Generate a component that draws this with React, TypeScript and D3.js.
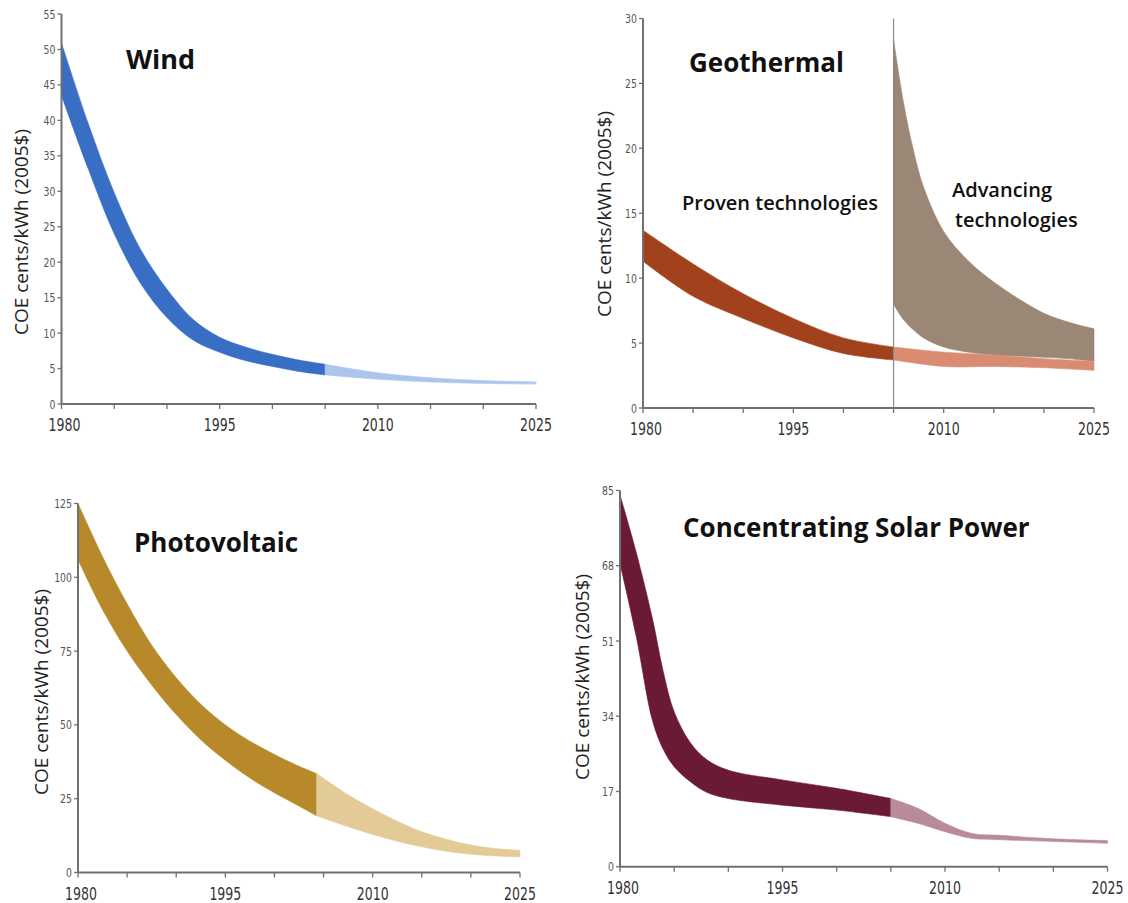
import React from "react";
import * as d3 from "d3";

// ---------- shared axis data ----------
const X_TICK_YEARS = [1980, 1985, 1990, 1995, 2000, 2005, 2010, 2015, 2020, 2025];
const X_LABEL_YEARS = [1980, 1995, 2010, 2025];
const Y_AXIS_TITLE = "COE cents/kWh (2005$)";

// ---------- Wind ----------
const WIND_Y_TICKS = [0, 5, 10, 15, 20, 25, 30, 35, 40, 45, 50, 55];
const WIND_DARK_YEARS = [1980, 1982.5, 1985, 1987.5, 1990, 1992.5, 1995, 1997.5, 2000, 2002.5, 2005];
const WIND_DARK_HIGH = [50.9, 39.7, 29.8, 21.8, 16.2, 11.9, 9.4, 8.0, 7.0, 6.2, 5.6];
const WIND_DARK_LOW = [43.5, 33.3, 24.0, 17.0, 12.2, 9.0, 7.3, 6.1, 5.3, 4.6, 4.1];
const WIND_LIGHT_YEARS = [2005, 2010, 2015, 2020, 2025];
const WIND_LIGHT_HIGH = [5.6, 4.4, 3.7, 3.3, 3.1];
const WIND_LIGHT_LOW = [4.1, 3.5, 3.1, 2.9, 2.8];

// ---------- Geothermal ----------
const GEO_Y_TICKS = [0, 5, 10, 15, 20, 25, 30];
const GEO_PROVEN_YEARS = [1980, 1985, 1990, 1995, 2000, 2005];
const GEO_PROVEN_HIGH = [13.7, 11.1, 8.8, 6.9, 5.4, 4.7];
const GEO_PROVEN_LOW = [11.3, 8.6, 6.9, 5.4, 4.2, 3.7];
const GEO_FUTURE_YEARS = [2005, 2010, 2015, 2020, 2025];
const GEO_FUTURE_HIGH = [4.7, 4.3, 4.1, 3.8, 3.6];
const GEO_FUTURE_LOW = [3.7, 3.2, 3.2, 3.1, 2.9];
const GEO_ADV_YEARS = [2005, 2006, 2007, 2008, 2010, 2012.5, 2015, 2017.5, 2020, 2022.5, 2025];
const GEO_ADV_HIGH = [28.4, 23.5, 19.8, 17.0, 13.6, 11.3, 9.7, 8.4, 7.3, 6.6, 6.1];
const GEO_ADV_LOW = [8.0, 6.8, 6.0, 5.4, 4.7, 4.3, 4.1, 4.0, 3.9, 3.8, 3.6];

// ---------- Photovoltaic ----------
const PV_Y_TICKS = [0, 25, 50, 75, 100, 125];
const PV_DARK_YEARS = [1980, 1982.5, 1985, 1987.5, 1990, 1992.5, 1995, 1997.5, 2000, 2002.5, 2004.3];
const PV_DARK_HIGH = [125, 107, 91, 77, 66, 57, 50, 44.5, 40, 36, 33.5];
const PV_DARK_LOW = [106, 89, 75, 63.5, 53.5, 45, 38, 32, 27, 22.5, 19.2];
const PV_LIGHT_YEARS = [2004.3, 2007.5, 2010, 2012.5, 2015, 2017.5, 2020, 2022.5, 2025];
const PV_LIGHT_HIGH = [33.5, 26.3, 21.6, 17.4, 13.8, 11.3, 9.3, 8.1, 7.5];
const PV_LIGHT_LOW = [19.2, 15.5, 12.9, 10.6, 8.7, 7.2, 6.2, 5.6, 5.3];

// ---------- Concentrating Solar Power ----------
const CSP_Y_TICKS = [0, 17, 34, 51, 68, 85];
const CSP_DARK_YEARS = [1980, 1981.5, 1983, 1984, 1985, 1986.5, 1988, 1990, 1995, 2000, 2005];
const CSP_DARK_HIGH = [84, 71, 56, 44, 35, 28, 24.2, 21.8, 19.6, 17.7, 15.4];
const CSP_DARK_LOW = [68.5, 52, 33, 26.5, 22.6, 19.2, 16.8, 15.4, 13.9, 12.8, 11.3];
const CSP_LIGHT_YEARS = [2005, 2007.5, 2010, 2012.5, 2015, 2020, 2025];
const CSP_LIGHT_HIGH = [15.4, 13.2, 9.8, 7.5, 7.1, 6.3, 5.9];
const CSP_LIGHT_LOW = [11.3, 9.8, 7.9, 6.4, 6.1, 5.7, 5.3];

// ---------- styling ----------
const TICK_FONT = "'Liberation Sans Narrow', 'DejaVu Sans Condensed', 'Open Sans', sans-serif";
const TITLE_FONT = "'Open Sans', 'Liberation Sans', sans-serif";
const AXIS_COLOR = "#707070";

type Band = { years: number[]; high: number[]; low: number[]; color: string };

type PanelProps = {
  left: number;
  right: number;
  top: number;
  bottom: number;
  yMax: number;
  yTicks: number[];
  bands: Band[];
  labelX: number;
  labelY: number;
  divider?: number;
  children?: React.ReactNode;
};

function Panel(p: PanelProps) {
  const x = d3.scaleLinear().domain([1980, 2025]).range([p.left, p.right]);
  const y = d3.scaleLinear().domain([0, p.yMax]).range([p.bottom, p.top]);
  const area = (b: Band) =>
    d3
      .area<number>()
      .x((d) => x(d))
      .y0((_d, i) => y(b.low[i]))
      .y1((_d, i) => y(b.high[i]))
      .curve(d3.curveCatmullRom.alpha(0.5))(b.years) || "";

  return (
    <g>
      {p.bands.map((b, i) => (
        <path key={i} d={area(b)} fill={b.color} stroke={b.color} strokeWidth={0.6} />
      ))}
      {p.divider !== undefined && (
        <line
          x1={x(p.divider)}
          x2={x(p.divider)}
          y1={p.top}
          y2={p.bottom}
          stroke="#8a8a8a"
          strokeWidth={1.2}
        />
      )}
      {/* y axis */}
      <line x1={p.left} x2={p.left} y1={p.top} y2={p.bottom} stroke={AXIS_COLOR} strokeWidth={2} />
      {p.yTicks.map((t) => (
        <g key={"y" + t}>
          <line x1={p.left - 4} x2={p.left} y1={y(t)} y2={y(t)} stroke={AXIS_COLOR} strokeWidth={1.3} />
          <text
            transform={`translate(${p.left - 6},${y(t)}) scale(0.8,1)`}
            dy="0.35em"
            textAnchor="end"
            fontFamily={TICK_FONT}
            fontSize={13}
            fill="#555"
          >
            {t}
          </text>
        </g>
      ))}
      {/* x axis */}
      <line x1={p.left} x2={p.right} y1={p.bottom} y2={p.bottom} stroke={AXIS_COLOR} strokeWidth={2} />
      {X_TICK_YEARS.map((t) => (
        <line key={"x" + t} x1={x(t)} x2={x(t)} y1={p.bottom} y2={p.bottom + 5} stroke={AXIS_COLOR} strokeWidth={1.3} />
      ))}
      {X_LABEL_YEARS.map((t) => (
        <text
          key={"xl" + t}
          transform={`translate(${x(t) + (t === 1980 ? 3 : 0)},${p.bottom + 27}) scale(0.82,1)`}
          textAnchor="middle"
          fontFamily={TICK_FONT}
          fontSize={17}
          fill="#333"
        >
          {t}
        </text>
      ))}
      <text
        transform={`translate(${p.labelX},${p.labelY}) rotate(-90)`}
        textAnchor="middle"
        dy="0.35em"
        fontFamily={TITLE_FONT}
        fontSize={19}
        fill="#222"
      >
        {Y_AXIS_TITLE}
      </text>
      {p.children}
    </g>
  );
}

const titleStyle = { fontFamily: TITLE_FONT, fontWeight: 700, fill: "#111" } as const;
const subStyle = { fontFamily: TITLE_FONT, fontWeight: 600, fill: "#111", fontSize: 20 } as const;

export default function App() {
  return (
    <svg
      width={1128}
      height={903}
      viewBox="0 0 1128 903"
      style={{ position: "absolute", left: 0, top: 0, background: "#fff" }}
    >
      <rect x={0} y={0} width={1128} height={903} fill="#fff" />
      <Panel
        left={61.5}
        right={536}
        top={14}
        bottom={404}
        yMax={55}
        yTicks={WIND_Y_TICKS}
        labelX={21}
        labelY={232}
        bands={[
          { years: WIND_DARK_YEARS, high: WIND_DARK_HIGH, low: WIND_DARK_LOW, color: "#386fc4" },
          { years: WIND_LIGHT_YEARS, high: WIND_LIGHT_HIGH, low: WIND_LIGHT_LOW, color: "#abc5ec" },
        ]}
      >
        <text x={126} y={69} fontSize={27} style={titleStyle}>Wind</text>
      </Panel>

      <Panel
        left={643}
        right={1094}
        top={18.5}
        bottom={408}
        yMax={30}
        yTicks={GEO_Y_TICKS}
        labelX={604}
        labelY={214}
        divider={2005}
        bands={[
          { years: GEO_ADV_YEARS, high: GEO_ADV_HIGH, low: GEO_ADV_LOW, color: "#9b8776" },
          { years: GEO_PROVEN_YEARS, high: GEO_PROVEN_HIGH, low: GEO_PROVEN_LOW, color: "#a2421d" },
          { years: GEO_FUTURE_YEARS, high: GEO_FUTURE_HIGH, low: GEO_FUTURE_LOW, color: "#d98c72" },
        ]}
      >
        <text x={689} y={72} fontSize={26} style={titleStyle}>Geothermal</text>
        <text x={682} y={210} style={subStyle}>Proven technologies</text>
        <text x={952} y={197} style={subStyle}>Advancing</text>
        <text x={955} y={227} style={subStyle}>technologies</text>
      </Panel>

      <Panel
        left={78}
        right={520}
        top={503.5}
        bottom={872.5}
        yMax={125}
        yTicks={PV_Y_TICKS}
        labelX={41}
        labelY={692}
        bands={[
          { years: PV_DARK_YEARS, high: PV_DARK_HIGH, low: PV_DARK_LOW, color: "#b8892a" },
          { years: PV_LIGHT_YEARS, high: PV_LIGHT_HIGH, low: PV_LIGHT_LOW, color: "#e3cb98" },
        ]}
      >
        <text x={134} y={552} fontSize={26} style={titleStyle}>Photovoltaic</text>
      </Panel>

      <Panel
        left={620}
        right={1107.5}
        top={490.5}
        bottom={866.7}
        yMax={85}
        yTicks={CSP_Y_TICKS}
        labelX={582}
        labelY={677}
        bands={[
          { years: CSP_DARK_YEARS, high: CSP_DARK_HIGH, low: CSP_DARK_LOW, color: "#6b1a33" },
          { years: CSP_LIGHT_YEARS, high: CSP_LIGHT_HIGH, low: CSP_LIGHT_LOW, color: "#b98a99" },
        ]}
      >
        <text x={683} y={537} fontSize={26} style={titleStyle}>Concentrating Solar Power</text>
      </Panel>
    </svg>
  );
}
